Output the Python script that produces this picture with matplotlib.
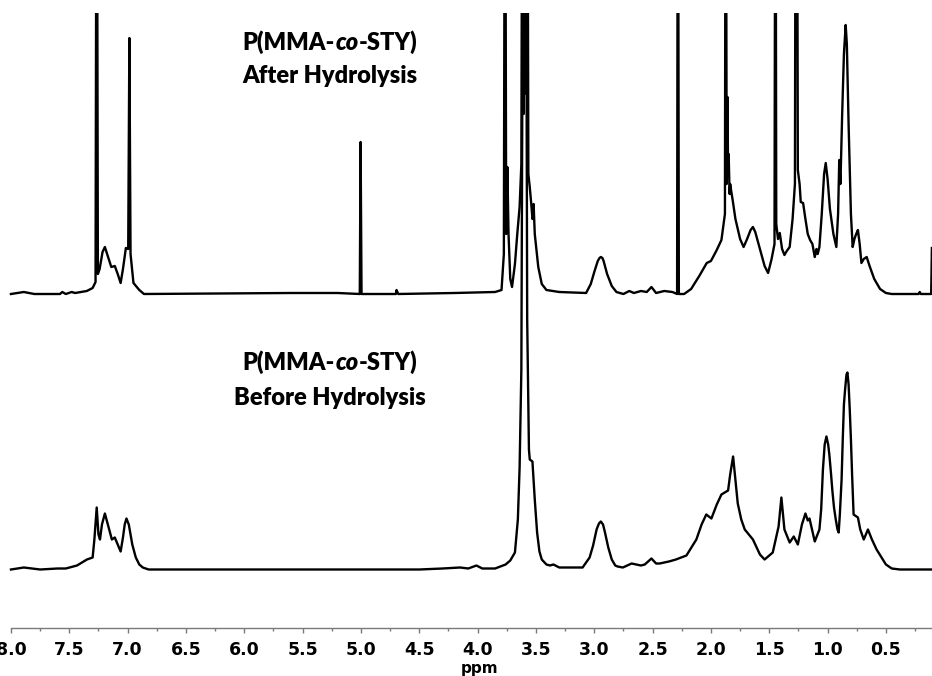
import matplotlib
matplotlib.use("Agg")
import matplotlib.pyplot as plt
from matplotlib.ticker import MultipleLocator, FormatStrFormatter

# 1H NMR traces: chemical shift (ppm) and height above baseline
top_ppm = [8.00, 7.89, 7.80, 7.58, 7.56, 7.53, 7.48, 7.45, 7.35, 7.30, 7.275, 7.265, 7.255,
           7.24, 7.215, 7.195, 7.17, 7.14, 7.11, 7.085, 7.06, 7.04, 7.015, 6.995, 6.985,
           6.975, 6.95, 6.90, 6.86, 5.60, 5.20, 5.01, 5.003, 4.995, 4.70, 4.695, 4.68,
           4.20, 3.85, 3.795, 3.775, 3.765, 3.755, 3.745, 3.735, 3.72, 3.705, 3.68, 3.66,
           3.64, 3.625, 3.615, 3.605, 3.595, 3.585, 3.575, 3.565, 3.553, 3.54, 3.53, 3.52,
           3.51, 3.48, 3.45, 3.41, 3.30, 3.07, 3.03, 3.00, 2.97, 2.955, 2.944, 2.93, 2.92,
           2.89, 2.85, 2.81, 2.75, 2.70, 2.66, 2.60, 2.55, 2.51, 2.47, 2.40, 2.33, 2.29,
           2.283, 2.275, 2.23, 2.17, 2.10, 2.036, 2.00, 1.95, 1.91, 1.88, 1.873, 1.865,
           1.858, 1.853, 1.848, 1.84, 1.835, 1.825, 1.815, 1.79, 1.75, 1.72, 1.69, 1.66,
           1.64, 1.62, 1.58, 1.54, 1.51, 1.48, 1.455, 1.447, 1.44, 1.425, 1.41, 1.39,
           1.37, 1.35, 1.325, 1.30, 1.28, 1.272, 1.264, 1.255, 1.24, 1.23, 1.21, 1.19,
           1.17, 1.15, 1.13, 1.11, 1.095, 1.085, 1.07, 1.05, 1.03, 1.016, 1.00, 0.98,
           0.95, 0.925, 0.91, 0.90, 0.89, 0.875, 0.86, 0.845, 0.835, 0.82, 0.80, 0.785,
           0.77, 0.755, 0.74, 0.725, 0.71, 0.69, 0.665, 0.64, 0.60, 0.55, 0.50, 0.45,
           0.22, 0.21, 0.20, 0.12, 0.112, 0.106]
top_int = [0, 2, 0, 0, 2, 0, 2, 1, 3, 6, 12, 600, 20,
           25, 42, 47, 38, 27, 28, 20, 11, 25, 46, 45, 256,
           40, 11, 4, 0, 1, 1, 0, 152, 0, 0, 4, 0,
           1, 2, 4, 40, 600, 60, 127, 60, 15, 7, 30, 60,
           87, 130, 600, 180, 600, 200, 600, 120, 107, 90, 75, 90,
           60, 27, 10, 4, 2, 1, 10, 22, 33, 36, 37, 36, 33,
           20, 8, 2, 0, 3, 1, 3, 2, 7, 1, 3, 2, 0,
           600, 0, 0, 5, 18, 31, 33, 44, 54, 80, 600, 110,
           197, 120, 140, 100, 110, 102, 95, 75, 55, 47, 55, 64,
           67, 62, 45, 28, 21, 35, 50, 600, 70, 55, 61, 45,
           39, 43, 47, 75, 110, 600, 600, 124, 110, 92, 91, 75,
           60, 54, 50, 37, 45, 40, 47, 80, 120, 131, 115, 85,
           60, 47, 80, 134, 110, 180, 240, 269, 250, 170, 80, 47,
           55, 60, 64, 50, 31, 35, 37, 28, 15, 5, 1, 0,
           0, 2, 0, 0, 0, 46]

bottom_ppm = [8.00, 7.89, 7.75, 7.60, 7.53, 7.434, 7.349, 7.30, 7.285, 7.265, 7.25, 7.237,
              7.22, 7.195, 7.17, 7.135, 7.11, 7.085, 7.06, 7.04, 7.025, 7.01, 6.99, 6.975,
              6.96, 6.93, 6.90, 6.87, 6.82, 4.50, 4.30, 4.15, 4.08, 4.01, 3.96, 3.85, 3.76,
              3.72, 3.68, 3.655, 3.64, 3.625, 3.61, 3.597, 3.585, 3.575, 3.56, 3.553, 3.53,
              3.51, 3.49, 3.47, 3.45, 3.41, 3.38, 3.35, 3.30, 3.10, 3.04, 3.01, 2.98, 2.96,
              2.944, 2.925, 2.91, 2.88, 2.85, 2.82, 2.80, 2.755, 2.68, 2.60, 2.567, 2.51,
              2.47, 2.44, 2.36, 2.30, 2.21, 2.125, 2.08, 2.04, 1.996, 1.95, 1.91, 1.853,
              1.835, 1.81, 1.79, 1.77, 1.74, 1.71, 1.64, 1.58, 1.54, 1.47, 1.42, 1.396,
              1.37, 1.325, 1.29, 1.255, 1.22, 1.19, 1.17, 1.155, 1.11, 1.07, 1.055, 1.04,
              1.025, 1.01, 0.995, 0.985, 0.97, 0.96, 0.945, 0.93, 0.915, 0.905, 0.895,
              0.88, 0.87, 0.86, 0.85, 0.838, 0.83, 0.82, 0.81, 0.80, 0.79, 0.777, 0.74,
              0.72, 0.69, 0.654, 0.62, 0.58, 0.50, 0.45, 0.38, 0.10]
bottom_int = [0, 2, 0, 1, 1, 4, 10, 12, 30, 62, 35, 30,
              45, 56, 45, 30, 32, 25, 18, 32, 45, 51, 45, 35,
              25, 12, 5, 2, 0, 0, 1, 2, 1, 4, 1, 1, 5,
              9, 17, 50, 102, 200, 700, 2000, 700, 250, 120, 110, 108,
              70, 37, 18, 10, 5, 4, 5, 2, 2, 12, 24, 40, 46,
              48, 45, 38, 22, 10, 4, 3, 2, 6, 4, 5, 11,
              6, 6, 8, 10, 14, 30, 45, 55, 51, 65, 75, 79,
              95, 113, 90, 66, 50, 40, 30, 15, 10, 17, 43, 72,
              40, 27, 33, 25, 45, 56, 49, 51, 28, 40, 60, 100,
              125, 133, 125, 115, 95, 80, 62, 50, 40, 37, 55,
              90, 130, 165, 180, 195, 197, 185, 160, 130, 95, 55, 52,
              40, 30, 40, 30, 20, 5, 1, 0, 0]

tick_values = [8.0, 7.5, 7.0, 6.5, 6.0, 5.5, 5.0, 4.5, 4.0, 3.5, 3.0, 2.5, 2.0, 1.5, 1.0, 0.5]

top_labels = ["P(MMA-", "co", "-STY)"]
top_sub = "After Hydrolysis"
bottom_sub = "Before Hydrolysis"

W, H = 932, 676
fig = plt.figure(figsize=(W / 100, H / 100), dpi=100)
ax = fig.add_axes([0, (H - 628) / H, 1, (628 - 13) / H])

top_offset = 334
bottom_offset = 58.5
ax.plot(top_ppm, [v + top_offset for v in top_int], color="black", lw=1.7)
ax.plot(bottom_ppm, [v + bottom_offset for v in bottom_int], color="black", lw=1.7)

ax.set_xlim(8.094, 0.105)
ax.set_ylim(0, 615)
for side in ["top", "left", "right"]:
    ax.spines[side].set_visible(False)
ax.spines["bottom"].set_color("#7a7a7a")
ax.spines["bottom"].set_linewidth(1.0)
ax.spines["bottom"].set_bounds(8.0, 0.105)
ax.set_yticks([])
ax.set_xticks(tick_values)
ax.xaxis.set_minor_locator(MultipleLocator(0.25))
ax.xaxis.set_major_formatter(FormatStrFormatter("%.1f"))
ax.tick_params(axis="x", which="major", direction="out", length=3.5, width=1,
               color="#7a7a7a", pad=6, labelsize=12.5)
ax.tick_params(axis="x", which="minor", direction="out", length=2.5, width=1,
               color="#7a7a7a")
for lab in ax.get_xticklabels():
    lab.set_fontweight("bold")
    lab.set_family("DejaVu Sans")

fig.text(480 / W, 1 - 669 / H, "ppm", ha="center", va="center",
         fontsize=11, fontweight="bold", family="DejaVu Sans")

renderer = fig.canvas.get_renderer()
title_font = dict(family="Lato", fontweight="heavy", fontsize=17)


def mixed_line(cx, cy):
    # draw "P(MMA-co-STY)" with an italic "co", centred at pixel (cx, cy)
    pieces = []
    x = 0
    for i, s in enumerate(top_labels):
        t = fig.text(0, 1 - cy / H, s, va="center", ha="left",
                     style="italic" if i == 1 else "normal", **title_font)
        w = t.get_window_extent(renderer).width
        pieces.append((t, x))
        x += w
    start = cx - x / 2
    for t, off in pieces:
        t.set_x((start + off) / W)


mixed_line(330, 42)
fig.text(330 / W, 1 - 76 / H, top_sub, ha="center", va="center", **title_font)
mixed_line(330, 362)
fig.text(330 / W, 1 - 398 / H, bottom_sub, ha="center", va="center", **title_font)

fig.savefig("out.png", dpi=100)
